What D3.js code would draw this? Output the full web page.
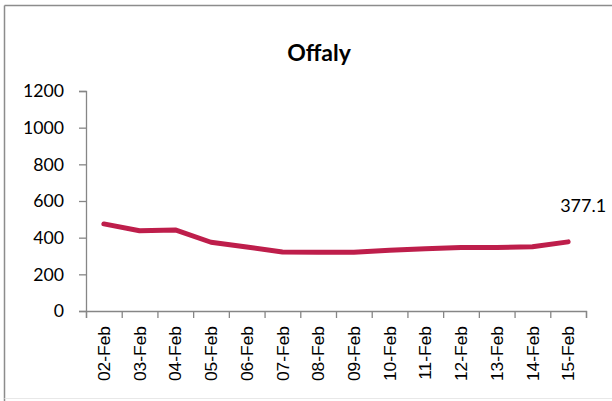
<!DOCTYPE html>
<html><head><meta charset="utf-8">
<script src="https://cdn.jsdelivr.net/npm/d3@7"></script>
<style>
html,body{margin:0;padding:0;background:#fff;}
svg{display:block;}
</style></head>
<body>
<script>
const categories = ["02-Feb","03-Feb","04-Feb","05-Feb","06-Feb","07-Feb","08-Feb","09-Feb","10-Feb","11-Feb","12-Feb","13-Feb","14-Feb","15-Feb"];
const values = [475, 438, 442, 375, 349, 322, 321, 320, 332, 340, 346, 346, 350, 377.1];
const yTicks = [0, 200, 400, 600, 800, 1000, 1200];
const title = "Offaly";
const lastLabel = "377.1";

const W = 612, H = 401;
const svg = d3.select("body").append("svg").attr("width", W).attr("height", H);

// chart border
svg.append("line").attr("x1", 4.5).attr("x2", W).attr("y1", 5.5).attr("y2", 5.5).attr("stroke", "#8c8c8c").attr("stroke-width", 1.5);
svg.append("line").attr("x1", 4.5).attr("x2", 4.5).attr("y1", 5.5).attr("y2", H).attr("stroke", "#8c8c8c").attr("stroke-width", 1.5);
svg.append("line").attr("x1", 4.5).attr("x2", W).attr("y1", 398.5).attr("y2", 398.5).attr("stroke", "#e8e8e8").attr("stroke-width", 1);

const plot = {left: 86, right: 586, top: 91, bottom: 311};
const x = d3.scaleBand().domain(categories).range([plot.left, plot.right]).padding(0);
const xb = d3.scaleLinear().domain([0, categories.length]).range([plot.left, plot.right]);
const y = d3.scaleLinear().domain([0, 1200]).range([plot.bottom, plot.top]);

const axisColor = "#868686";
const labelFont = "Lato, 'Open Sans', sans-serif";

// y axis
const ya = svg.append("g").attr("transform", `translate(${plot.left},0)`)
  .call(d3.axisLeft(y).tickValues(yTicks).tickSize(7).tickPadding(15).tickFormat(d3.format("d")));
ya.select(".domain").attr("stroke", axisColor).attr("stroke-width", 1.3);
ya.selectAll(".tick line").attr("stroke", axisColor).attr("stroke-width", 1.3);
ya.selectAll(".tick text").attr("fill", "#000").style("font-family", labelFont).style("font-size", "17.7px");

// x axis boundary ticks
const xt = svg.append("g").attr("transform", `translate(0,${plot.bottom})`)
  .call(d3.axisBottom(xb).tickValues(d3.range(categories.length + 1)).tickSize(7).tickFormat(""));
xt.select(".domain").attr("stroke", axisColor).attr("stroke-width", 1.3);
xt.selectAll(".tick line").attr("stroke", axisColor).attr("stroke-width", 1.3);

// x labels
const xa = svg.append("g").attr("transform", `translate(0,${plot.bottom})`)
  .call(d3.axisBottom(x).tickSize(0).tickPadding(0));
xa.select(".domain").remove();
xa.selectAll(".tick text")
  .attr("transform", "rotate(-90)")
  .attr("x", -15).attr("y", 0).attr("dy", "0.35em")
  .style("text-anchor", "end")
  .attr("fill", "#000")
  .style("font-family", "'Liberation Sans', Arial, sans-serif").style("font-size", "17.4px");

// line
const line = d3.line().x((d, i) => x(categories[i]) + x.bandwidth() / 2).y(d => y(d));
svg.append("path").datum(values).attr("d", line)
  .attr("fill", "none").attr("stroke", "#BE1E4B").attr("stroke-width", 5)
  .attr("stroke-linecap", "round").attr("stroke-linejoin", "round");

// data label
const li = values.length - 1;
svg.append("text")
  .attr("x", x(categories[li]) + x.bandwidth() / 2 + 15).attr("y", y(values[li]) - 30)
  .attr("text-anchor", "middle")
  .style("font-family", labelFont).style("font-size", "18px").attr("fill", "#000")
  .text(lastLabel);

// title
svg.append("text").attr("x", 319).attr("y", 60.5).attr("text-anchor", "middle")
  .style("font-family", labelFont).style("font-weight", "bold").style("font-size", "23px").attr("fill", "#000")
  .text(title);
</script>
</body></html>
